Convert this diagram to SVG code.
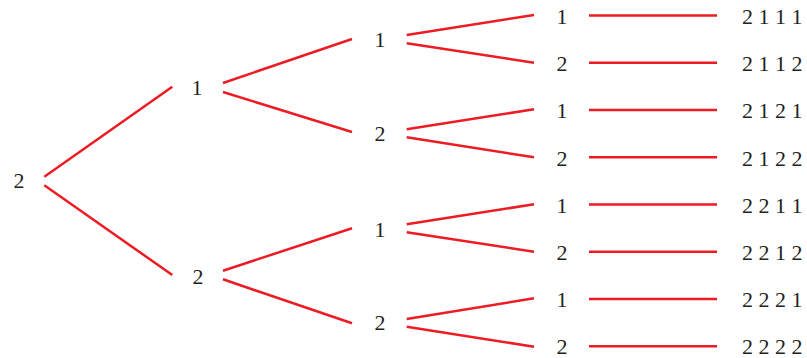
<svg xmlns="http://www.w3.org/2000/svg" width="807" height="358" viewBox="0 0 807 358">
<style>
text{font-family:'Liberation Serif','DejaVu Serif',serif;font-size:22px;fill:#231f20}
.n{text-anchor:middle}
.l{stroke:#ed1c24;stroke-width:2.5;fill:none;stroke-linecap:butt}
</style>
<rect width="807" height="358" fill="#fff"/>
<g id="connectors" class="l">
<path d="M44.3 176.7L172.3 86.7M44.3 185.3L172.3 275"/>
<path d="M223 83L352 39M223 92L352 132M223 270.7L352 228.3M223 279.3L352 323.3"/>
<path d="M406.7 35L534 15M406.7 43.3L534 62.7M406.7 129.3L534 109.3M406.7 137.3L534 157.3M406.7 224.3L534 204.3M406.7 232.3L534 251.7M406.7 319L534 298.3M406.7 326.7L534 346.7"/>
<path d="M589 15.5H717M589 62.7H717M589 110H717M589 157.3H717M589 204.5H717M589 251.7H717M589 299H717M589 346.3H717"/>
</g>
<g id="root"><text class="n" x="19" y="188">2</text></g>
<g id="n1"><text class="n" x="197" y="95">1</text></g>
<g id="n2"><text class="n" x="198" y="284">2</text></g>
<g id="n11"><text class="n" x="380" y="47">1</text></g>
<g id="n12"><text class="n" x="380" y="141">2</text></g>
<g id="n21"><text class="n" x="380" y="236.5">1</text></g>
<g id="n22"><text class="n" x="380" y="330">2</text></g>
<g id="n111"><text class="n" x="562" y="24">1</text></g>
<g id="n112"><text class="n" x="562" y="71.2">2</text></g>
<g id="n121"><text class="n" x="562" y="118.4">1</text></g>
<g id="n122"><text class="n" x="562" y="165.6">2</text></g>
<g id="n211"><text class="n" x="562" y="212.8">1</text></g>
<g id="n212"><text class="n" x="562" y="260">2</text></g>
<g id="n221"><text class="n" x="562" y="307.2">1</text></g>
<g id="n222"><text class="n" x="562" y="354.4">2</text></g>
<g id="r1"><text x="742" y="24">2 1 1 1</text></g>
<g id="r2"><text x="742" y="71.2">2 1 1 2</text></g>
<g id="r3"><text x="742" y="118.4">2 1 2 1</text></g>
<g id="r4"><text x="742" y="165.6">2 1 2 2</text></g>
<g id="r5"><text x="742" y="212.8">2 2 1 1</text></g>
<g id="r6"><text x="742" y="260">2 2 1 2</text></g>
<g id="r7"><text x="742" y="307.2">2 2 2 1</text></g>
<g id="r8"><text x="742" y="354.4">2 2 2 2</text></g>
</svg>
